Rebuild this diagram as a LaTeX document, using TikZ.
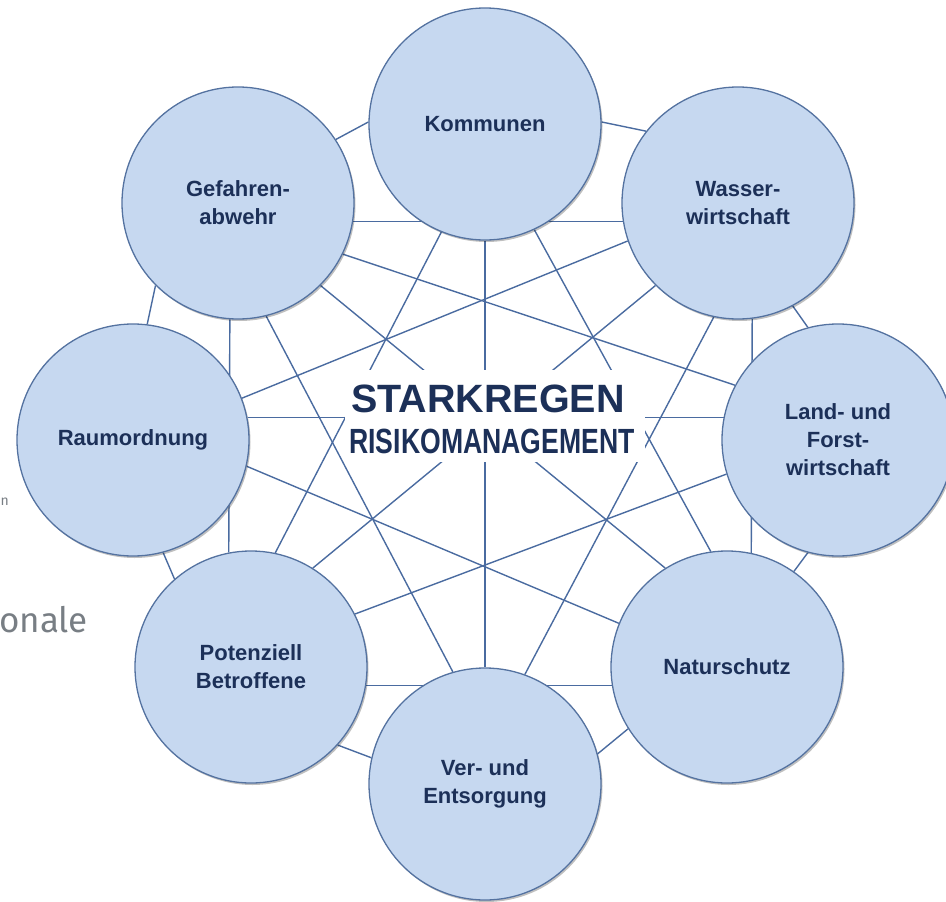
\documentclass[tikz,border=0pt]{standalone}
\usepackage{fontspec}
\usepackage{graphicx}
\setmainfont{Liberation Sans}
\newfontfamily\grayfont{Fira Sans}
\usetikzlibrary{shadows}
\definecolor{cfill}{RGB}{198,216,240}
\definecolor{cline}{RGB}{74,107,160}
\definecolor{cborder}{RGB}{84,114,160}
\definecolor{ctext}{RGB}{28,48,88}
\definecolor{cgray}{RGB}{120,126,132}
\pgfdeclarelayer{background}
\pgfsetlayers{background,main}
\begin{document}
\begin{tikzpicture}[x=1pt,y=-1pt,
  actor/.style={circle, minimum size=232pt, inner sep=0pt, fill=cfill, draw=cborder, line width=1.3pt,
    font=\fontsize{22}{28}\selectfont\bfseries, text=ctext, align=center,
    drop shadow={shadow xshift=1.5pt, shadow yshift=-2pt, opacity=0.25, fill=black}},
  link/.style={draw=cline, line width=1.4pt},
  stray/.style={text=cgray, inner sep=0pt}]
\useasboundingbox (0,0) rectangle (946,902);

% white box behind the title
\node[fill=white, minimum width=300pt, minimum height=92pt, inner sep=0pt] (box) at (495,416) {};
\node[font=\fontsize{39.5}{40}\selectfont\bfseries, text=ctext, anchor=base, inner sep=0pt] (t1) at (488,412) {STARKREGEN};
\node[font=\fontsize{35}{36}\selectfont\bfseries, text=ctext, anchor=base, inner sep=0pt] (t2) at (492,453) {\scalebox{0.76}[1]{RISIKOMANAGEMENT}};

% circles
\node[actor] (K) at (485,124) {Kommunen};
\node[actor] (W) at (738,203) {Wasser-\\wirtschaft};
\node[actor] (L) at (838,440) {Land- und\\Forst-\\wirtschaft};
\node[actor] (N) at (727,667) {Naturschutz};
\node[actor] (V) at (485,784) {Ver- und\\Entsorgung};
\node[actor] (P) at (251,667) {Potenziell\\Betroffene};
\node[actor] (R) at (133,440) {Raumordnung};
\node[actor] (G) at (238,203) {Gefahren-\\abwehr};

% stray text fragments
\node[stray, font=\grayfont\fontsize{35}{35}\selectfont, anchor=base west] (g1) at (-1,632) {onale};
\node[stray, font=\grayfont\fontsize{14}{14}\selectfont, anchor=base west] (g2) at (0.5,505) {n};

\begin{pgfonlayer}{background}
\draw[link] (G.33) -- (K.179);
\draw[link] (G.-9) -- (W.189);
\draw[link] (G.-26) -- (L.152);
\draw[link] (G.-45) -- (N.122);
\draw[link] (G.-76) -- (V.106);
\draw[link] (G.-94.5) -- (P.101);
\draw[link] (G.-135) -- (R.83);
\draw[link] (K.1) -- (W.142);
\draw[link] (K.-65) -- (N.98);
\draw[link] (K.-90) -- (V.90);
\draw[link] (K.-112) -- (P.78);
\draw[link] (W.-62) -- (L.105);
\draw[link] (W.-83.5) -- (N.78);
\draw[link] (W.-102) -- (V.70);
\draw[link] (W.-135) -- (P.58);
\draw[link] (W.-161) -- (R.21);
\draw[link] (L.-105) -- (N.55);
\draw[link] (L.-163) -- (P.27);
\draw[link] (L.169) -- (R.11);
\draw[link] (N.-148) -- (V.15);
\draw[link] (N.-171) -- (P.-9);
\draw[link] (N.158) -- (R.-13);
\draw[link] (P.-42) -- (V.167);
\draw[link] (R.-75) -- (P.131);
\end{pgfonlayer}
\end{tikzpicture}
\end{document}
